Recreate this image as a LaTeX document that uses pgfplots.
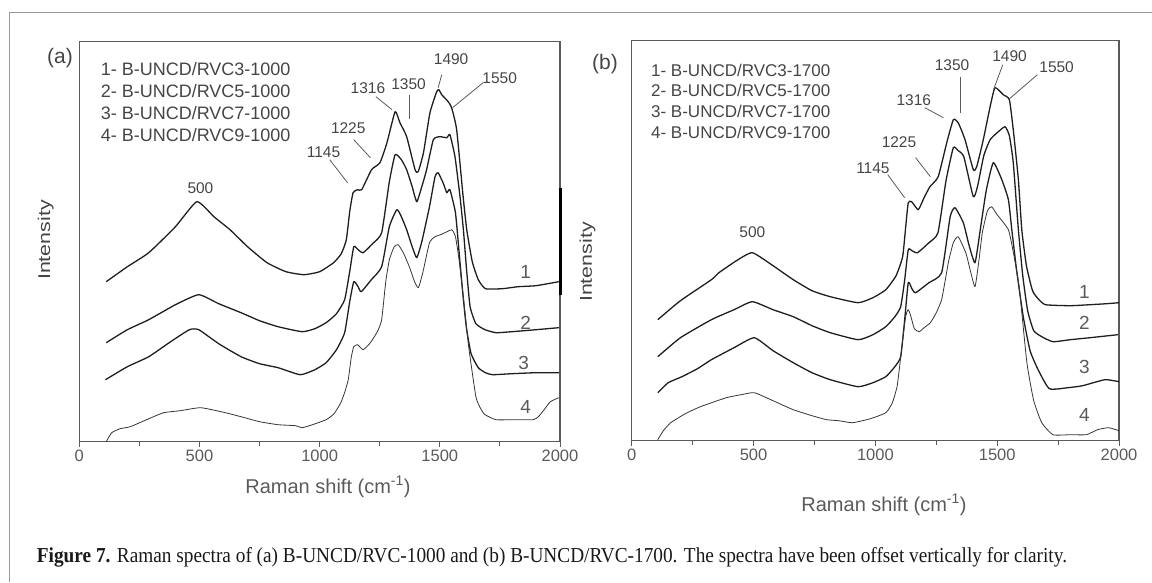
\documentclass[border=0pt]{standalone}
\usepackage{fontspec}
\setmainfont{Liberation Sans}
\newfontfamily\capfont{Liberation Serif}
\usepackage{graphicx}
\usepackage{pgfplots}
\pgfplotsset{compat=1.18}

\definecolor{axgray}{HTML}{5A5A5A}
\definecolor{txtgray}{HTML}{454545}
\definecolor{curve}{HTML}{1E1E1E}
\newcommand{\fs}[1]{\fontsize{#1pt}{#1pt}\selectfont}

\pgfplotsset{ramanaxis/.style={
  scale only axis, height=400pt, xmin=0, xmax=2000, ymin=0, ymax=400,
  axis line style={axgray, line width=1.1pt},
  xtick={0,500,1000,1500,2000},
  xticklabels={0,500,1000,1500,2000},
  minor xtick={250,750,1250,1750},
  ytick=\empty,
  tick align=outside, xtick pos=left,
  major tick length=5pt, minor tick length=4pt,
  tick style={axgray, line width=1pt},
  xticklabel style={font=\fs{16.5}, text=axgray},
  clip=false,
  cycle list={{curve, line width=1.3pt, line join=round, smooth, tension=0.3},
              {curve, line width=1.3pt, line join=round, smooth, tension=0.3},
              {curve, line width=1.3pt, line join=round, smooth, tension=0.3},
              {curve!90, line width=0.8pt, line join=round, smooth, tension=0.3}},
  no markers,
}}
\tikzset{pk/.style={font=\fs{15.5}, text=txtgray, inner sep=0pt},
  pl/.style={axgray, line width=0.8pt},
  cl/.style={font=\fs{19}, text=axgray, inner sep=0pt},
  lg/.style={font=\fs{#1}, text=txtgray, anchor=west, inner sep=0pt}}

\begin{document}
\begin{tikzpicture}
\useasboundingbox (0,0) rectangle (1152pt,582pt);
\draw[gray!80, line width=1.3pt] (9.3pt,0pt) -- (9.3pt,569.7pt) -- (1152pt,569.7pt);

% ---------------- panel (a)
\begin{axis}[ramanaxis, width=480.7pt, at={(79.3pt,140.3pt)}, anchor=south west]
\addplot coordinates {(112,160) (200,175) (289,189) (400,215) (489,240) (560,225) (627,212) (700,195) (781,179) (860,170) (935,167) (1000,170) (1058,179) (1090,188) (1111,202) (1125,230) (1139,249) (1158,252) (1175,252) (1216,272) (1251,279) (1280,299) (1314,330) (1334,319) (1362,305) (1397,272) (1410,270) (1432,289) (1459,329) (1487,350) (1496,352) (1508,347) (1535,340) (1549,334) (1570,312) (1597,245) (1612,212) (1635,180) (1660,162) (1690,153) (1760,153) (1826,155) (1900,156) (1995,160)};
\addplot coordinates {(112,99) (200,112) (289,122) (400,137) (497,147) (580,138) (673,129) (750,121) (827,115) (927,110) (980,113) (1027,119) (1070,128) (1104,142) (1125,170) (1142,195) (1160,192) (1181,189) (1220,198) (1258,209) (1290,260) (1314,287) (1340,282) (1362,272) (1385,255) (1404,240) (1425,255) (1445,272) (1473,302) (1500,305) (1529,304) (1542,307) (1563,285) (1584,245) (1598,212) (1612,170) (1626,135) (1650,118) (1688,112) (1734,109) (1800,110) (1900,112) (1995,114)};
\addplot coordinates {(109,62) (200,75) (289,85) (380,100) (458,112) (497,112) (580,98) (673,85) (750,78) (827,74) (919,67) (980,72) (1027,79) (1070,92) (1104,109) (1125,140) (1142,160) (1160,155) (1173,150) (1215,162) (1258,175) (1290,215) (1321,232) (1340,225) (1362,212) (1385,195) (1404,184) (1425,200) (1457,235) (1480,265) (1493,269) (1515,258) (1529,249) (1542,252) (1565,229) (1580,190) (1595,150) (1610,115) (1630,88) (1660,74) (1690,69) (1719,67) (1800,68) (1900,69) (1995,69)};
\addplot coordinates {(112,0) (135,9) (170,13) (212,15) (280,22) (351,29) (420,31) (504,34) (590,30) (673,25) (750,20) (827,17) (900,16) (927,14) (970,17) (1027,22) (1060,28) (1088,39) (1105,50) (1119,62) (1132,85) (1142,95) (1158,97) (1181,92) (1211,99) (1240,110) (1258,122) (1275,160) (1290,182) (1310,195) (1327,197) (1350,188) (1373,175) (1395,160) (1411,154) (1430,170) (1457,199) (1480,205) (1503,207) (1530,210) (1550,212) (1565,205) (1580,182) (1600,140) (1620,95) (1650,45) (1670,33) (1688,27) (1734,22) (1800,22) (1888,22) (1910,25) (1934,32) (1960,40) (1995,44)};
\draw[black, line width=3pt] (axis cs:2000,147) -- (axis cs:2000,254);
% peak labels
\node[pk] at (axis cs:504,254) {500};
\node[pk] at (axis cs:1016,289) {1145};
\draw[pl] (axis cs:1042,282) -- (axis cs:1116,259);
\node[pk] at (axis cs:1119,314) {1225};
\draw[pl] (axis cs:1142,302) -- (axis cs:1211,284);
\node[pk] at (axis cs:1201,354) {1316};
\draw[pl] (axis cs:1234,345) -- (axis cs:1301,332);
\node[pk] at (axis cs:1370,358) {1350};
\draw[pl] (axis cs:1373,347) -- (axis cs:1373,323);
\node[pk] at (axis cs:1547,383) {1490};
\draw[pl] (axis cs:1508,367) -- (axis cs:1493,354);
\node[pk] at (axis cs:1749,364) {1550};
\draw[pl] (axis cs:1680,359) -- (axis cs:1553,334);
% curve numbers
\node[cl] at (axis cs:1857,170) {1};
\node[cl] at (axis cs:1857,119) {2};
\node[cl] at (axis cs:1849,79) {3};
\node[cl] at (axis cs:1857,35) {4};
% legend text
\node[lg=18] at (axis cs:88.6,373) {1- B-UNCD/RVC3-1000};
\node[lg=18] at (axis cs:88.6,351) {2- B-UNCD/RVC5-1000};
\node[lg=18] at (axis cs:88.6,329) {3- B-UNCD/RVC7-1000};
\node[lg=18] at (axis cs:88.6,307) {4- B-UNCD/RVC9-1000};
\end{axis}

% ---------------- panel (b)
\begin{axis}[ramanaxis, width=487.3pt, at={(631.7pt,141.3pt)}, anchor=south west]
\addplot coordinates {(107,121) (200,140) (327,161) (358,168) (430,180) (495,188) (580,175) (663,161) (740,150) (815,144) (929,138) (990,143) (1043,151) (1085,165) (1112,184) (1125,215) (1135,238) (1149,239) (1176,231) (1200,243) (1224,254) (1258,264) (1293,298) (1320,321) (1340,318) (1368,301) (1402,271) (1416,274) (1443,301) (1471,334) (1491,353) (1525,346) (1550,341) (1566,311) (1587,261) (1601,211) (1620,175) (1645,150) (1668,142) (1698,136) (1800,135) (1881,136) (1950,137) (2000,138)};
\addplot coordinates {(107,84) (200,103) (327,121) (420,131) (495,139) (580,131) (663,124) (740,115) (815,108) (929,101) (990,106) (1043,114) (1080,124) (1104,134) (1120,160) (1135,191) (1150,190) (1173,188) (1220,198) (1257,208) (1290,260) (1320,293) (1340,290) (1363,284) (1402,244) (1420,255) (1445,285) (1471,301) (1500,308) (1532,314) (1550,305) (1566,278) (1587,211) (1605,165) (1625,130) (1650,110) (1683,104) (1729,99) (1800,101) (1881,103) (1995,106)};
\addplot coordinates {(107,48) (150,58) (206,64) (270,72) (327,81) (420,93) (503,103) (580,90) (663,78) (740,68) (815,61) (929,54) (990,58) (1043,64) (1080,74) (1104,84) (1120,120) (1135,158) (1150,152) (1165,148) (1220,158) (1272,168) (1307,224) (1327,233) (1361,218) (1385,195) (1409,178) (1430,210) (1455,250) (1484,278) (1519,261) (1546,241) (1560,211) (1580,170) (1607,124) (1635,90) (1668,71) (1714,52) (1790,53) (1851,55) (1942,61) (2000,59)};
\addplot coordinates {(107,1) (130,10) (160,18) (220,27) (282,34) (388,43) (450,46) (503,48) (580,40) (663,31) (740,25) (800,21) (850,20) (906,18) (980,22) (1043,28) (1070,38) (1089,54) (1100,75) (1112,101) (1125,125) (1135,131) (1145,125) (1160,112) (1180,109) (1200,113) (1226,118) (1250,128) (1272,141) (1290,165) (1302,181) (1320,198) (1340,204) (1371,188) (1390,170) (1409,154) (1425,180) (1439,208) (1460,230) (1477,234) (1500,226) (1546,211) (1565,190) (1577,174) (1592,150) (1622,78) (1650,40) (1683,18) (1729,6) (1800,6) (1866,6) (1912,11) (1957,13) (2000,10)};
% peak labels
\node[pk] at (axis cs:495,209) {500};
\node[pk] at (axis cs:990,272) {1145};
\draw[pl] (axis cs:1051,266) -- (axis cs:1120,243);
\node[pk] at (axis cs:1097,299) {1225};
\draw[pl] (axis cs:1165,283) -- (axis cs:1226,264);
\node[pk] at (axis cs:1158,341) {1316};
\draw[pl] (axis cs:1203,333) -- (axis cs:1279,323);
\node[pk] at (axis cs:1315,376) {1350};
\draw[pl] (axis cs:1348,364) -- (axis cs:1348,328);
\node[pk] at (axis cs:1551,385) {1490};
\draw[pl] (axis cs:1523,376) -- (axis cs:1485,351);
\node[pk] at (axis cs:1744,374) {1550};
\draw[pl] (axis cs:1665,366) -- (axis cs:1546,341);
% curve numbers
\node[cl] at (axis cs:1858,149) {1};
\node[cl] at (axis cs:1858,118) {2};
\node[cl] at (axis cs:1858,74) {3};
\node[cl] at (axis cs:1858,26) {4};
% legend text
\node[lg=17] at (axis cs:79,370) {1- B-UNCD/RVC3-1700};
\node[lg=17] at (axis cs:79,350) {2- B-UNCD/RVC5-1700};
\node[lg=17] at (axis cs:79,329) {3- B-UNCD/RVC7-1700};
\node[lg=17] at (axis cs:79,308) {4- B-UNCD/RVC9-1700};
\end{axis}

% axis titles and panel letters
\node[font=\fs{20}, text=axgray] at (328pt,95pt) {Raman shift (cm\textsuperscript{-1})};
\node[font=\fs{20}, text=axgray] at (884pt,77pt) {Raman shift (cm\textsuperscript{-1})};
\node[font=\fs{17}, text=txtgray, rotate=90] at (45.7pt,342pt) {\scalebox{1.26}[1]{Intensity}};
\node[font=\fs{17}, text=txtgray, rotate=90] at (587.5pt,320pt) {\scalebox{1.26}[1]{Intensity}};
\node[font=\fs{21}, text=txtgray] at (60pt,524pt) {(a)};
\node[font=\fs{21}, text=txtgray] at (605pt,518pt) {(b)};
% caption
\node[anchor=base west, inner sep=0pt, text=black!90] at (36.7pt,20pt) {\resizebox{1030pt}{15pt}{\capfont\fs{19.5}\textbf{Figure 7.} Raman spectra of (a) B-UNCD/RVC-1000 and (b) B-UNCD/RVC-1700. The spectra have been offset vertically for clarity.}};
\end{tikzpicture}
\end{document}
